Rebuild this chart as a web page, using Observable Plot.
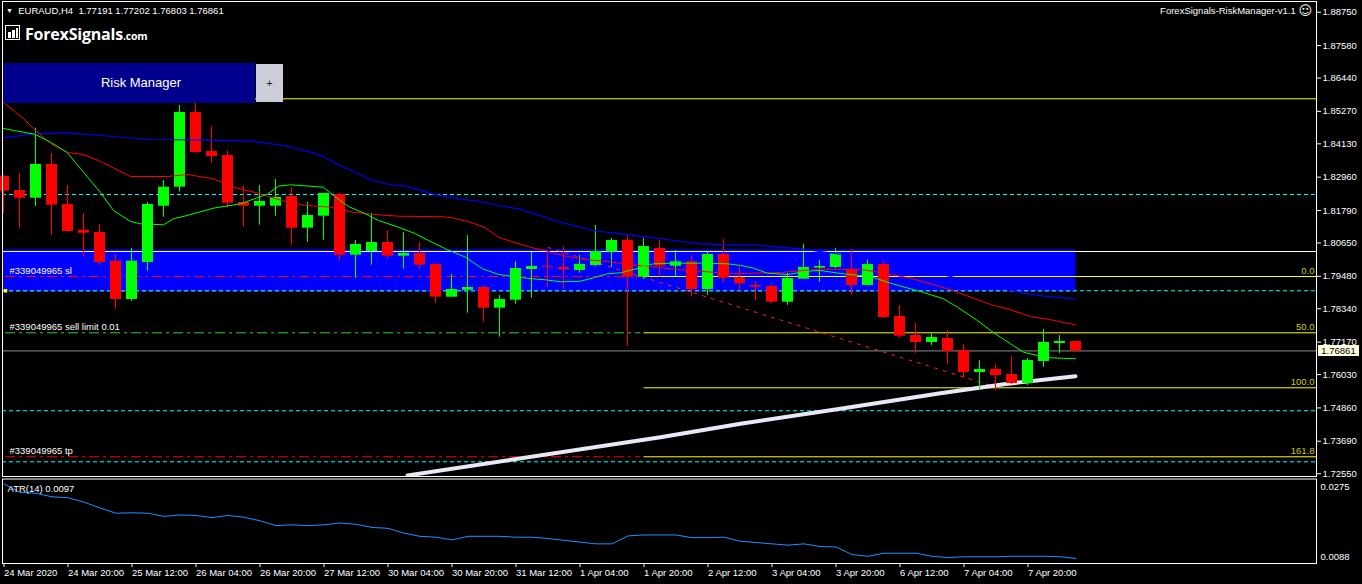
<!DOCTYPE html>
<html><head><meta charset="utf-8">
<script src="https://cdn.jsdelivr.net/npm/d3@7"></script>
<script src="https://cdn.jsdelivr.net/npm/@observablehq/plot@0.6"></script>
<style>
html,body{margin:0;padding:0;background:#000;overflow:hidden;}
#wrap{position:relative;width:1362px;height:584px;background:#000;font-family:"Liberation Sans",Arial,sans-serif;color:#fff;}
#main,#atr{position:absolute;left:0;}
#main{top:0}
#atr{top:477px}
.ov{position:absolute;white-space:pre;}
</style></head><body>
<div id="wrap"><div id="main"></div><div id="atr"></div></div>
<script>
// ---------- data ----------
const symbol = "EURAUD";
const timeframe = "H4";
const opens  = [1.82983,1.82492,1.82222,1.83405,1.82001,1.81099,1.81018,1.80010,1.78666,1.79965,1.81941,1.82608,1.85230,1.83861,1.83720,1.82071,1.81941,1.81941,1.82281,1.81169,1.81590,1.82352,1.80221,1.80351,1.80667,1.80186,1.80281,1.79895,1.78747,1.78993,1.79087,1.78361,1.78642,1.79719,1.79835,1.79789,1.79684,1.79860,1.80326,1.80737,1.79449,1.80456,1.79835,1.79989,1.79017,1.80246,1.79428,1.79158,1.79122,1.78571,1.79379,1.79765,1.79789,1.79719,1.79158,1.79895,1.78069,1.77403,1.77157,1.77297,1.76876,1.76104,1.76209,1.76034,1.75718,1.76490,1.77122,1.77191];
const highs  = [1.83019,1.83099,1.84679,1.83791,1.82668,1.81685,1.81299,1.80246,1.80456,1.82071,1.82843,1.85476,1.85767,1.84738,1.83861,1.82643,1.82668,1.82878,1.82597,1.82071,1.82400,1.82387,1.80737,1.81685,1.81088,1.81018,1.80667,1.79930,1.79544,1.80913,1.79158,1.78807,1.80000,1.80326,1.80326,1.80502,1.80211,1.81264,1.80807,1.80948,1.80818,1.80737,1.80386,1.80211,1.80361,1.80772,1.79824,1.79298,1.79217,1.79589,1.80597,1.80035,1.80456,1.80421,1.80070,1.80035,1.78456,1.77824,1.77508,1.77578,1.77087,1.76525,1.76385,1.76665,1.76595,1.77613,1.77403,1.77202];
const lows   = [1.81685,1.81169,1.81930,1.80923,1.81028,1.80175,1.79870,1.78326,1.78607,1.79659,1.81555,1.82432,1.83801,1.83450,1.81871,1.81204,1.81274,1.81590,1.80572,1.80677,1.80748,1.80010,1.79414,1.79870,1.80081,1.79730,1.79730,1.78536,1.78740,1.78185,1.77869,1.77343,1.78501,1.78712,1.79098,1.79017,1.79589,1.79824,1.79800,1.77016,1.79368,1.79449,1.79449,1.78771,1.78807,1.79252,1.78947,1.78631,1.78515,1.78456,1.79370,1.79273,1.79744,1.78817,1.79140,1.77999,1.77308,1.76771,1.77052,1.76385,1.75893,1.75472,1.75472,1.75683,1.75648,1.76279,1.76771,1.76803];
const closes = [1.82467,1.82222,1.83405,1.81976,1.81053,1.80993,1.79965,1.78666,1.80010,1.82001,1.82608,1.85230,1.83826,1.83685,1.82046,1.81941,1.82106,1.82246,1.81169,1.81615,1.82387,1.80221,1.80597,1.80667,1.80186,1.80281,1.79870,1.78747,1.79017,1.79087,1.78361,1.78666,1.79754,1.79824,1.79800,1.79709,1.79895,1.80351,1.80737,1.79449,1.80526,1.79835,1.79989,1.79017,1.80246,1.79414,1.79217,1.79098,1.78571,1.79403,1.79789,1.79824,1.80281,1.79158,1.79895,1.78034,1.77378,1.77157,1.77332,1.76841,1.76104,1.76209,1.75999,1.75718,1.76525,1.77157,1.77192,1.76861];

const atrPeriod = 14;
const atrValues = [0.0265,0.0246,0.0244,0.0236,0.0234,0.0224,0.0211,0.0199,0.0200,0.0199,0.0192,0.0195,0.0194,0.0189,0.0194,0.0190,0.0182,0.0171,0.0173,0.0171,0.0173,0.0177,0.0174,0.0167,0.0165,0.0154,0.0147,0.0145,0.0139,0.0147,0.0147,0.0147,0.0145,0.0145,0.0142,0.0138,0.0134,0.0130,0.0130,0.0148,0.0150,0.0150,0.0150,0.0144,0.0144,0.0145,0.0136,0.0133,0.0130,0.0127,0.0130,0.0124,0.0123,0.0106,0.0102,0.0109,0.0109,0.0109,0.0102,0.0099,0.0101,0.0101,0.0101,0.0102,0.0102,0.0102,0.0101,0.0097];
const atrScaleLabels = [0.0275, 0.0088];

const maFastIdx = [-0.05,1.97,2.91,3.95,4.97,6.03,6.84,7.91,8.53,9.97,10.59,11.45,13.09,14.78,16.45,17.16,17.91,19.97,20.59,21.53,22.59,23.41,24.66,25.72,26.53,27.59,28.84,29.91,30.91,31.78,33.03,33.84,34.78,36.03,36.84,37.72,38.53,39.78,40.59,41.84,43.53,45.22,46.03,46.84,47.72,48.97,50.22,51.03,52.28,54.16,55.41,56.66,57.47,58.72,59.59,60.84,61.66,62.28,62.91,63.72,64.59,65.41,66.97];
const maFastVal = [1.84668,1.84458,1.84187,1.83826,1.83134,1.82422,1.81790,1.81404,1.81323,1.81288,1.81499,1.81615,1.81871,1.82025,1.82362,1.82643,1.82692,1.82608,1.82316,1.81930,1.81674,1.81439,1.81204,1.80972,1.80737,1.80446,1.80151,1.79744,1.79544,1.79473,1.79393,1.79358,1.79287,1.79308,1.79428,1.79568,1.79603,1.79779,1.79919,1.79940,1.79940,1.79919,1.79860,1.79765,1.79589,1.79544,1.79659,1.79684,1.79579,1.79473,1.79238,1.79042,1.78912,1.78691,1.78396,1.77929,1.77578,1.77343,1.77111,1.76816,1.76700,1.76620,1.76585];
const maMidIdx = [-0.05,1.22,1.84,2.91,3.95,4.97,6.03,7.91,10.22,11.47,13.09,14.34,16.03,16.66,17.59,18.84,20.53,21.78,23.41,24.66,27.41,28.03,29.28,30.09,30.91,32.16,33.03,33.84,34.34,35.22,36.47,37.72,38.53,39.78,41.03,42.28,43.97,45.59,46.84,48.53,49.97,51.03,52.09,53.72,55.22,56.66,57.91,59.16,60.41,61.66,62.91,64.16,65.41,66.97];
const maMidVal = [1.85581,1.85019,1.84668,1.84142,1.83826,1.83756,1.83510,1.82983,1.82983,1.83054,1.82903,1.82608,1.82376,1.82257,1.82106,1.81966,1.81906,1.81730,1.81639,1.81590,1.81569,1.81534,1.81358,1.81183,1.80853,1.80621,1.80481,1.80386,1.80291,1.80175,1.80060,1.80000,1.79940,1.79849,1.79779,1.79709,1.79638,1.79568,1.79589,1.79614,1.79684,1.79730,1.79730,1.79709,1.79568,1.79414,1.79217,1.79007,1.78747,1.78491,1.78305,1.78069,1.77954,1.77778];
const maSlowIdx = [-0.05,1.84,3.95,6.03,9.16,12.28,15.41,17.47,19.59,21.22,22.28,22.72,24.03,25.09,26.78,28.03,29.66,30.91,32.16,33.84,34.34,35.59,36.84,38.53,40.22,41.84,43.53,45.22,46.84,48.53,49.78,52.91,56.03,59.16,62.28,63.72,64.97,66.97];
const maSlowVal = [1.84342,1.84482,1.84517,1.84423,1.84282,1.84272,1.84222,1.84072,1.83780,1.83310,1.83054,1.82903,1.82703,1.82643,1.82376,1.82236,1.82106,1.81966,1.81850,1.81555,1.81439,1.81264,1.81088,1.80972,1.80853,1.80737,1.80621,1.80586,1.80586,1.80502,1.80446,1.80211,1.79860,1.79473,1.79087,1.78887,1.78782,1.78691];

const whiteLineIdx = [25.22,41.03,46.03,52.28,58.53,62.72,66.97];
const whiteLineVal = [1.72489,1.73833,1.74303,1.74830,1.75377,1.75707,1.75974];
const trendIdx = [34.0, 62.09];
const trendVal = [1.80491, 1.75577];

const yTicks = [1.88750,1.87580,1.86440,1.85270,1.84130,1.82960,1.81790,1.80650,1.79480,1.78340,1.77170,1.76030,1.74860,1.73690,1.72550];
const xTickIdx = [0,4,8,12,16,20,24,28,32,36,40,44,48,52,56,60,64];
const xTickLabels = ["24 Mar 2020","24 Mar 20:00","25 Mar 12:00","26 Mar 04:00","26 Mar 20:00","27 Mar 12:00","30 Mar 04:00","30 Mar 20:00","31 Mar 12:00","1 Apr 04:00","1 Apr 20:00","2 Apr 12:00","3 Apr 04:00","3 Apr 20:00","6 Apr 12:00","7 Apr 04:00","7 Apr 20:00"];

const topLevel = 1.85711;
const whiteLevel = 1.80351;
const cyanLevels = [1.82352, 1.78972, 1.74760, 1.72969];
const zoneTop = 1.80411, zoneBottom = 1.78922, zoneEndIdx = 67;
const orderLabels = ["#339049965 sl", "#339049965 sell limit 0.01", "#339049965 tp"];
const orderPrices = [1.79473, 1.77497, 1.73145];
const orderEndIdx = 39.8;
const fibLevels = [0.0, 50.0, 100.0, 161.8];
const fibPrices = [1.79473, 1.77497, 1.75567, 1.73145];
const fibStartIdx = 40;

// ---------- chart ----------
const xDomain = [-0.09375, 82.03125];
const bars = opens.map((o, i) => ({i, o, h: highs[i], l: lows[i], c: closes[i]}));
const bidPrice = closes[closes.length - 1];
const pts = (xs, ys) => xs.map((x, i) => ({x, y: ys[i]}));
const FONT = '"Liberation Sans", Arial, sans-serif';
const orderColors = ["#ff0000", "#32cd32", "#ff0000"];

const main = Plot.plot({
  width: 1362, height: 477,
  marginLeft: 2, marginRight: 46, marginTop: 1, marginBottom: 1,
  x: {domain: xDomain, axis: null},
  y: {domain: [1.72453, 1.89126]},
  style: {background: "#000", color: "#fff", fontFamily: FONT, fontSize: "9.5px", overflow: "visible"},
  marks: [
    Plot.rect([0], {x1: xDomain[0], x2: zoneEndIdx, y1: zoneBottom, y2: zoneTop, fill: "#0000ff"}),
    Plot.ruleY([topLevel], {stroke: "#ffff00"}),
    Plot.ruleY([whiteLevel], {stroke: "#ffffff"}),
    Plot.ruleY(cyanLevels, {stroke: "#00ffff", strokeDasharray: "4,3"}),
    Plot.ruleY([cyanLevels[1]], {x1: xDomain[0], x2: zoneEndIdx, stroke: "#32cd32", strokeDasharray: "4,3"}),
    Plot.ruleY([bidPrice], {stroke: "#8c8c8c"}),
    Plot.ruleY(fibPrices, {x1: fibStartIdx, x2: xDomain[1], stroke: "#ffff00"}),
    Plot.ruleY(orderPrices, {x1: 0.1, x2: orderEndIdx, stroke: (d, i) => orderColors[i], strokeDasharray: "10,4,3,4"}),
    Plot.line(pts(trendIdx, trendVal), {x: "x", y: "y", stroke: "#ff2020", strokeDasharray: "3,6", strokeWidth: 1}),
    Plot.line(pts(whiteLineIdx, whiteLineVal), {x: "x", y: "y", stroke: "#e8e8f6", strokeWidth: 4, clip: true}),
    Plot.ruleX(bars, {x: "i", y1: "l", y2: "h", stroke: d => d.c >= d.o ? "#00ff00" : "#ff0000", dx: -0.5}),
    Plot.rect(bars, {x1: d => d.i - 0.34375, x2: d => d.i + 0.34375, y1: "o", y2: "c", fill: d => d.c >= d.o ? "#00ff00" : "#ff0000"}),
    Plot.line(pts(maSlowIdx, maSlowVal), {x: "x", y: "y", stroke: "#0000ff", strokeWidth: 1.2}),
    Plot.line(pts(maMidIdx, maMidVal), {x: "x", y: "y", stroke: "#ff0000", strokeWidth: 1}),
    Plot.line(pts(maFastIdx, maFastVal), {x: "x", y: "y", stroke: "#00ff00", strokeWidth: 1}),
    Plot.dot([cyanLevels[1]], {frameAnchor: "left", y: d => d, dx: 3, symbol: "square", r: 2, fill: "#ffff00"}),
    Plot.text(orderLabels, {frameAnchor: "left", y: (d, i) => orderPrices[i], text: d => d, dx: 7, dy: -6, textAnchor: "start", fill: "#ffffff"}),
    Plot.text(fibLevels, {frameAnchor: "right", y: (d, i) => fibPrices[i], text: d => d.toFixed(1), dx: -2, dy: -6, textAnchor: "end", fill: "#cccc00"}),
    Plot.frame({stroke: "#ffffff"}),
    Plot.axisY({ticks: yTicks, anchor: "right", tickFormat: d => d.toFixed(5), tickSize: 4, tickPadding: 2, label: null})
  ]
});
document.getElementById("main").appendChild(main);

const atr = Plot.plot({
  width: 1362, height: 107,
  marginLeft: 2, marginRight: 46, marginTop: 1.5, marginBottom: 21,
  x: {domain: xDomain},
  y: {domain: [0.008575, 0.02761], axis: null},
  style: {background: "#000", color: "#fff", fontFamily: FONT, fontSize: "9.5px", overflow: "visible"},
  marks: [
    Plot.line(atrValues, {x: (d, i) => i, y: d => d, stroke: "#1e90ff", strokeWidth: 1}),
    Plot.text([`ATR(${atrPeriod}) ${atrValues[atrValues.length - 1].toFixed(4)}`], {frameAnchor: "top-left", dx: 5, dy: 6, textAnchor: "start", fill: "#ffffff"}),
    Plot.text(atrScaleLabels, {frameAnchor: "right", y: d => d, text: d => d.toFixed(4), dx: 4, textAnchor: "start", fill: "#ffffff"}),
    Plot.frame({stroke: "#ffffff"}),
    Plot.axisX({ticks: xTickIdx, tickFormat: d => xTickLabels[xTickIdx.indexOf(d)], textAnchor: "start", tickSize: 4, tickPadding: 2, label: null})
  ]
});
document.getElementById("atr").appendChild(atr);

// nudge ATR scale labels inside (top label below max, bottom label above min)
{
  const texts = atr.querySelectorAll("g[aria-label='text']");
  const g = texts[1];
  if (g) {
    const t = g.querySelectorAll("text");
    if (t[0]) t[0].setAttribute("dy", "7");
    if (t[1]) t[1].setAttribute("dy", "-6");
  }
}

// ---------- overlays ----------
const wrap = document.getElementById("wrap");
function ov(html, css) {
  const d = document.createElement("div");
  d.className = "ov";
  d.style.cssText = css;
  d.innerHTML = html;
  wrap.appendChild(d);
  return d;
}
const last = bars[bars.length - 1];
ov(`<span style="font-size:7px;vertical-align:1px">&#9660;</span>  ${symbol},${timeframe}  ${[last.o, last.h, last.l, last.c].map(v => v.toFixed(5)).join(" ")}`,
   "left:6px;top:5px;font-size:9.5px;line-height:11px;color:#fff;");
// logo
ov("", "left:5px;top:25px;width:15px;height:15px;border:1.5px solid #fff;box-sizing:border-box;");
ov("", "left:8px;top:32px;width:2.5px;height:6px;background:#fff;");
ov("", "left:12px;top:30px;width:2.5px;height:8px;background:#fff;");
ov("", "left:16px;top:27.5px;width:2px;height:10.5px;background:#fff;");
ov(`ForexSignals<span style="font-size:10.5px">.com</span>`,
   "left:25px;top:24px;font-family:'Open Sans',sans-serif;font-weight:700;font-size:16px;line-height:20px;color:#fff;letter-spacing:-0.2px;");
// risk manager
ov("Risk Manager", "left:3px;top:63px;width:252px;height:40px;background:#00008c;color:#fff;text-align:center;line-height:40px;font-size:13px;padding-left:24px;box-sizing:border-box;");
ov("+", "left:256px;top:64px;width:27px;height:38px;background:#cbced6;color:#222;text-align:center;line-height:38px;font-size:11px;");
// top right
ov(`ForexSignals-RiskManager-v1.1 <span style="font-family:'DejaVu Sans';font-size:13px;vertical-align:-1px">&#9786;</span>`,
   "right:50px;top:4px;font-size:9.5px;line-height:14px;color:#fff;");
// bid price box
const yBid = main.scale("y").apply(bidPrice);
ov(bidPrice.toFixed(5), `left:1318px;top:${yBid - 5.5}px;width:41px;height:11px;background:#ffffe0;color:#000;font-size:9.5px;line-height:11px;text-align:center;`);
</script></body></html>
